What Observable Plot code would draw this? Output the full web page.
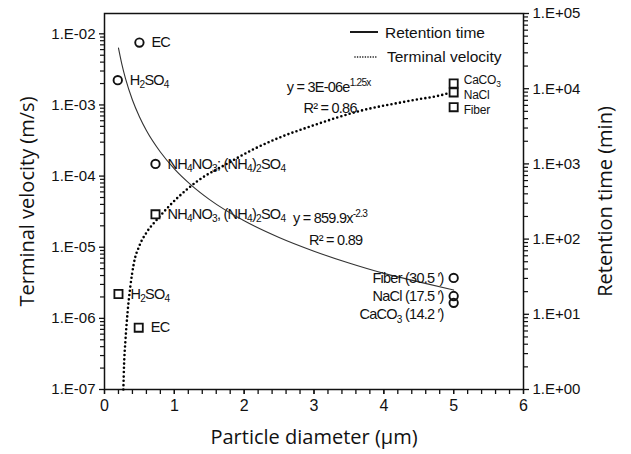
<!DOCTYPE html>
<html><head><meta charset="utf-8">
<script src="https://cdn.jsdelivr.net/npm/d3@7"></script>
<script src="https://cdn.jsdelivr.net/npm/@observablehq/plot@0.6"></script>
<style>
body{margin:0;background:#fff}
#chart{position:relative;width:631px;height:454px;background:#fff}
#chart svg{position:absolute;left:0;top:0}
</style></head><body><div id="chart"></div>
<script>
// ---------- data ----------
const diameterTicks = [0, 1, 2, 3, 4, 5, 6];
const diameterTickLabels = ["0", "1", "2", "3", "4", "5", "6"];
const velocityTicks = [1e-7, 1e-6, 1e-5, 1e-4, 1e-3, 1e-2];
const velocityTickLabels = ["1.E-07", "1.E-06", "1.E-05", "1.E-04", "1.E-03", "1.E-02"];
const retentionTicks = [1, 10, 100, 1000, 10000, 100000];
const retentionTickLabels = ["1.E+00", "1.E+01", "1.E+02", "1.E+03", "1.E+04", "1.E+05"];

// terminal velocity trend (dotted, left axis, m/s)
const velCurveX = [0.27, 0.28, 0.30, 0.33, 0.37, 0.42, 0.50, 0.60, 0.76, 1.05, 1.33, 1.76, 2.14, 2.48, 2.95, 3.67, 4.38, 4.91, 5.0];
const velCurveY = [1.0e-7, 2.2e-7, 4.9e-7, 1.2e-6, 2.8e-6, 5.9e-6, 1.05e-5, 1.6e-5, 2.5e-5, 5.0e-5, 8.5e-5, 1.5e-4, 2.4e-4, 3.4e-4, 5.0e-4, 8.3e-4, 1.15e-3, 1.45e-3, 1.55e-3];

// retention time trend (solid, right axis, min)
const retCurveX = [0.2, 0.25, 0.3, 0.4, 0.5, 0.6, 0.8, 1, 1.25, 1.5, 2, 2.5, 3, 3.5, 4, 4.5, 5];
const retCurveY = [34800, 20900, 13700, 7070, 4240, 2780, 1440, 860, 515, 338, 175, 105, 69, 48, 35, 27, 21];

// measured terminal velocity (squares)
const velPointX = [0.2, 0.49, 0.73, 5, 5, 5];
const velPointY = [2.2e-6, 7.4e-7, 2.9e-5, 2.0e-3, 1.5e-3, 9.3e-4];
const velPointLabel = ["H_{2}SO_{4}", "EC", "NH_{4}NO_{3}, (NH_{4})_{2}SO_{4}", "CaCO_{3}", "NaCl", "Fiber"];

// measured retention time (circles)
const retPointX = [0.5, 0.19, 0.73, 5, 5, 5];
const retPointY = [41000, 13000, 1000, 30.5, 17.5, 14.2];
const retPointLabel = ["EC", "H_{2}SO_{4}", "NH_{4}NO_{3}; (NH_{4})_{2}SO_{4}", "Fiber (30.5 ′)", "NaCl (17.5 ′)", "CaCO_{3} (14.2 ′)"];

// fit equations
const velEquation = ["y = 3E-06e^{1.25x}", "R² = 0.86"];
const velEquationX = [3.21, 3.23];
const velEquationY = [1.77e-3, 8.95e-4];
const retEquation = ["y = 859.9x^{-2.3}", "R² = 0.89"];
const retEquationX = [3.23, 3.31];
const retEquationY = [190, 97];

const legendLabels = ["Retention time", "Terminal velocity"];

// ---------- tables ----------
const velCurve = velCurveX.map((x, i) => ({x, y: velCurveY[i]}));
const retCurve = retCurveX.map((x, i) => ({x, y: retCurveY[i]}));
const velPts = velPointX.map((x, i) => ({x, y: velPointY[i], label: velPointLabel[i]}));
const retPts = retPointX.map((x, i) => ({x, y: retPointY[i], label: retPointLabel[i]}));
const velEq = velEquation.map((t, i) => ({t, x: velEquationX[i], y: velEquationY[i]}));
const retEq = retEquation.map((t, i) => ({t, x: retEquationX[i], y: retEquationY[i]}));

const minorLog = (lo, hi) => { const o = []; for (let e = lo; e < hi; e++) for (let k = 2; k <= 9; k++) o.push(k * Math.pow(10, e)); return o; };
const xMinor = d3.range(0, 31).map(i => i / 5);

const annFont = "'Liberation Sans', Arial, sans-serif";
const annSize = 14.5;
const smallSize = 12;

const W = 631, H = 454;
const common = {
  width: W, height: H, marginTop: 13, marginRight: 108, marginBottom: 65, marginLeft: 104
};
const base = "'Liberation Sans', Arial, sans-serif";
const ink = "#111";
const rightSq = (name) => velPts.filter(d => d.x >= 1 && d.label.startsWith(name));

const p1 = Plot.plot({
  ...common,
  style: {background: "transparent", fontFamily: base, color: ink},
  x: {domain: [0, 6]},
  y: {type: "log", domain: [1e-7, 0.0193]},
  marks: [
    Plot.frame({stroke: ink, strokeWidth: 1.5}),
    Plot.axisX({ticks: xMinor, tickSize: 5, text: null, label: null, strokeWidth: 1.3}),
    Plot.axisX({ticks: diameterTicks, tickSize: 5, tickPadding: 5, fontSize: 16, label: null, strokeWidth: 1.3,
      tickFormat: d => diameterTickLabels[diameterTicks.indexOf(d)]}),
    Plot.axisY({ticks: minorLog(-7, -2), tickSize: 4, text: null, label: null, strokeWidth: 1.2}),
    Plot.axisY({ticks: velocityTicks, tickSize: 5, tickPadding: 4, fontSize: 15, label: null, strokeWidth: 1.3,
      tickFormat: d => velocityTickLabels[velocityTicks.indexOf(d)]}),
    Plot.text(["Particle diameter (µm)"], {text: d => d, frameAnchor: "bottom", dy: 48, fontSize: 20,
      fontFamily: "'Open Sans', sans-serif", textAnchor: "middle", lineAnchor: "middle", fill: ink}),
    Plot.text(["Terminal velocity (m/s)"], {text: d => d, frameAnchor: "left", dx: -77, rotate: -90, fontSize: 20,
      fontFamily: "'Open Sans', sans-serif", textAnchor: "middle", lineAnchor: "middle", fill: ink}),
    Plot.line(velCurve, {x: "x", y: "y", curve: "monotone-x", stroke: "#000", strokeWidth: 2.6,
      strokeDasharray: "0 4.3", strokeLinecap: "round"}),
    Plot.dot(velPts, {x: "x", y: "y", symbol: "square", r: 4.6, stroke: ink, strokeWidth: 1.8, fill: "white"}),
    Plot.text(velPts.filter(d => d.x < 1), {x: "x", y: "y", text: "label", dx: 12, textAnchor: "start",
      fontFamily: annFont, fontSize: annSize, fill: ink}),
    Plot.text(rightSq("CaCO"), {x: "x", y: "y", text: "label", dx: 10, dy: -3, textAnchor: "start",
      fontFamily: annFont, fontSize: smallSize, fill: ink}),
    Plot.text(rightSq("NaCl"), {x: "x", y: "y", text: "label", dx: 10, dy: 2.5, textAnchor: "start",
      fontFamily: annFont, fontSize: smallSize, fill: ink}),
    Plot.text(rightSq("Fiber"), {x: "x", y: "y", text: "label", dx: 10, dy: 2.5, textAnchor: "start",
      fontFamily: annFont, fontSize: smallSize, fill: ink}),
    Plot.text(velEq, {x: "x", y: "y", text: "t", textAnchor: "middle", fontFamily: annFont, fontSize: annSize, fill: ink})
  ]
});

const p2 = Plot.plot({
  ...common,
  style: {background: "transparent", fontFamily: base, color: ink},
  x: {domain: [0, 6], axis: null},
  y: {type: "log", domain: [1, 1e5]},
  marks: [
    Plot.axisY({anchor: "right", ticks: minorLog(0, 5), tickSize: 4, text: null, label: null, strokeWidth: 1.2}),
    Plot.axisY({anchor: "right", ticks: retentionTicks, tickSize: 5, tickPadding: 4, fontSize: 15, label: null, strokeWidth: 1.3,
      tickFormat: d => retentionTickLabels[retentionTicks.indexOf(d)]}),
    Plot.text(["Retention time (min)"], {text: d => d, frameAnchor: "right", dx: 82, rotate: -90, fontSize: 20,
      fontFamily: "'Open Sans', sans-serif", textAnchor: "middle", lineAnchor: "middle", fill: ink}),
    Plot.line(retCurve, {x: "x", y: "y", curve: "monotone-x", stroke: "#333", strokeWidth: 1.1}),
    Plot.dot(retPts, {x: "x", y: "y", r: 4.2, stroke: ink, strokeWidth: 1.9, fill: "none"}),
    Plot.text(retPts.filter(d => d.x < 1), {x: "x", y: "y", text: "label", dx: 12, textAnchor: "start",
      fontFamily: annFont, fontSize: annSize, fill: ink}),
    Plot.text(retPts.filter(d => d.x >= 1 && !d.label.startsWith("CaCO")), {x: "x", y: "y", text: "label", dx: -10,
      textAnchor: "end", fontFamily: annFont, fontSize: annSize, fill: ink}),
    Plot.text(retPts.filter(d => d.label.startsWith("CaCO")), {x: "x", y: "y", text: "label", dx: -10, dy: 12,
      textAnchor: "end", fontFamily: annFont, fontSize: annSize, fill: ink}),
    Plot.text(retEq, {x: "x", y: "y", text: "t", textAnchor: "middle", fontFamily: annFont, fontSize: annSize, fill: ink})
  ]
});

const chart = document.getElementById("chart");
chart.appendChild(p1);
chart.appendChild(p2);

// legend (inside plot area, top right)
const leg = d3.create("svg").attr("width", 200).attr("height", 60)
  .style("left", "340px").style("top", "17px")
  .attr("font-family", base).attr("font-size", 15.5).attr("fill", ink);
leg.append("line").attr("x1", 10).attr("x2", 38).attr("y1", 15).attr("y2", 15).attr("stroke", "#000").attr("stroke-width", 1.8);
leg.append("line").attr("x1", 15).attr("x2", 38).attr("y1", 40).attr("y2", 40).attr("stroke", "#000").attr("stroke-width", 1.6)
  .attr("stroke-dasharray", "0 2.6").attr("stroke-linecap", "round");
leg.append("text").attr("x", 45).attr("y", 16).attr("dy", "0.35em").text(legendLabels[0]);
leg.append("text").attr("x", 47).attr("y", 40).attr("dy", "0.35em").text(legendLabels[1]);
chart.appendChild(leg.node());

// tighter, narrow-looking annotation text
chart.querySelectorAll("g[font-family]").forEach(g => {
  if (g.getAttribute("font-family") === annFont && g.querySelector("text")) {
    const fs = parseFloat(g.getAttribute("font-size"));
    g.style.letterSpacing = fs < 13.5 ? "-0.2px" : "-0.75px";
  }
});

// sub/superscript markup -> tspans
function richify(root) {
  root.querySelectorAll("text").forEach(t => {
    const spans = t.querySelectorAll("tspan");
    const targets = spans.length ? [...spans] : [t];
    targets.forEach(el => {
      const s = el.textContent;
      if (!/[_^]\{/.test(s)) return;
      const fs = parseFloat(getComputedStyle(el).fontSize) || 14;
      el.textContent = "";
      const re = /([_^])\{([^}]*)\}/g;
      let last = 0, m, shift = 0;
      const add = (str, kind) => {
        const ts = document.createElementNS("http://www.w3.org/2000/svg", "tspan");
        const target = kind === "_" ? fs * 0.24 : kind === "^" ? -fs * 0.4 : 0;
        const d = target - shift;
        if (d) ts.setAttribute("dy", d.toFixed(2));
        shift = target;
        if (kind) ts.setAttribute("font-size", (fs * 0.7).toFixed(2));
        ts.textContent = str;
        el.appendChild(ts);
      };
      while ((m = re.exec(s))) {
        if (m.index > last) add(s.slice(last, m.index), null);
        add(m[2], m[1]);
        last = re.lastIndex;
      }
      if (last < s.length) add(s.slice(last), null);
    });
  });
}
richify(chart);
</script>
</body></html>
